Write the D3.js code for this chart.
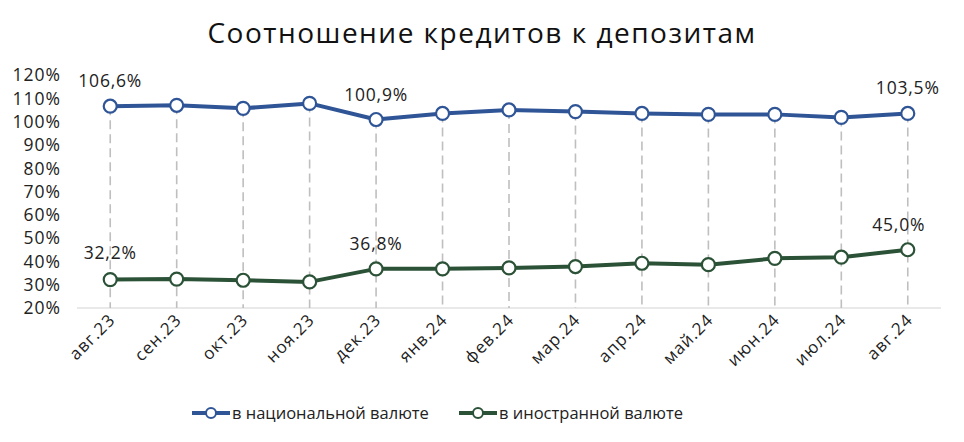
<!DOCTYPE html>
<html><head><meta charset="utf-8">
<script src="https://cdn.jsdelivr.net/npm/d3@7"></script>
<style>body{margin:0;background:#fff;}svg{display:block;font-family:"Open Sans",sans-serif;}</style>
</head><body><svg id="c" width="964" height="442"></svg>
<script>
const categories = ["авг.23","сен.23","окт.23","ноя.23","дек.23","янв.24","фев.24","мар.24","апр.24","май.24","июн.24","июл.24","авг.24"];
const nationalValues = [106.6,107.0,105.7,107.8,100.9,103.5,105.0,104.3,103.5,103.1,103.1,101.8,103.5];
const foreignValues = [32.2,32.4,31.9,31.2,36.8,36.8,37.2,37.8,39.2,38.6,41.3,41.8,45.0];
const yTicks = [20,30,40,50,60,70,80,90,100,110,120];
const seriesNames = ["в национальной валюте","в иностранной валюте"];
const labelledIdx = [0,4,12];
const title = "Соотношение кредитов к депозитам";

const colors = ["#2f5597","#2b5237"];
const svg = d3.select("#c");
const x = d3.scaleBand().domain(categories).range([77,941]);
const y = d3.scaleLinear().domain([20,120]).range([308,75]);
const cx = d => x(d) + x.bandwidth()/2;

svg.append("text").attr("x",482).attr("y",43).attr("text-anchor","middle")
  .attr("font-size",28).attr("letter-spacing",1.5).attr("fill","#111").text(title);

// y axis labels
svg.append("g").selectAll("text").data(yTicks).join("text")
  .attr("x",61).attr("y",d=>y(d)).attr("dy","0.36em").attr("text-anchor","end")
  .attr("font-size",17.5).attr("letter-spacing",1).attr("fill","#222").text(d=>d+"%");

// baseline
svg.append("line").attr("x1",77).attr("x2",941).attr("y1",y(20)).attr("y2",y(20))
  .attr("stroke","#d4d4d4").attr("stroke-width",1.2);

// drop lines
svg.append("g").selectAll("line").data(categories).join("line")
  .attr("x1",d=>cx(d)).attr("x2",d=>cx(d))
  .attr("y1",(d,i)=>y(nationalValues[i])).attr("y2",y(20))
  .attr("stroke","#bfbfbf").attr("stroke-width",1.6).attr("stroke-dasharray","9,5");

// x labels
svg.append("g").selectAll("text").data(categories).join("text")
  .attr("transform",d=>`translate(${cx(d)+6},${y(20)+13}) rotate(-45)`)
  .attr("text-anchor","end").attr("font-size",17).attr("letter-spacing",1).attr("fill","#222").text(d=>d);

const line = d3.line().x((v,i)=>cx(categories[i])).y(v=>y(v));
[nationalValues,foreignValues].forEach((vals,s)=>{
  svg.append("path").datum(vals).attr("d",line).attr("fill","none")
    .attr("stroke",colors[s]).attr("stroke-width",4).attr("stroke-linejoin","round");
  svg.append("g").selectAll("circle").data(vals).join("circle")
    .attr("cx",(v,i)=>cx(categories[i])).attr("cy",v=>y(v)).attr("r",6.5)
    .attr("fill","#fff").attr("stroke",colors[s]).attr("stroke-width",2.2);
  svg.append("g").selectAll("text").data(labelledIdx).join("text")
    .attr("x",i=>cx(categories[i]) - (s===1&&i===12?9:0))
    .attr("y",i=>y(vals[i]) - (s===1&&i===0 ? 21 : 19))
    .attr("text-anchor","middle").attr("font-size",17.5).attr("letter-spacing",0.8).attr("fill","#222")
    .text(i=>vals[i].toFixed(1).replace(".",",")+"%");
});

// legend
const lg = [{x:192,tx:232},{x:459,tx:499}];
lg.forEach((p,s)=>{
  const g = svg.append("g");
  g.append("line").attr("x1",p.x).attr("x2",p.x+38).attr("y1",413).attr("y2",413)
    .attr("stroke",colors[s]).attr("stroke-width",4);
  g.append("circle").attr("cx",p.x+19).attr("cy",413).attr("r",5)
    .attr("fill","#fff").attr("stroke",colors[s]).attr("stroke-width",2);
  g.append("text").attr("x",p.tx).attr("y",413).attr("dy","0.35em")
    .attr("font-size",16.5).attr("fill","#222").text(seriesNames[s]);
});
</script></body></html>
